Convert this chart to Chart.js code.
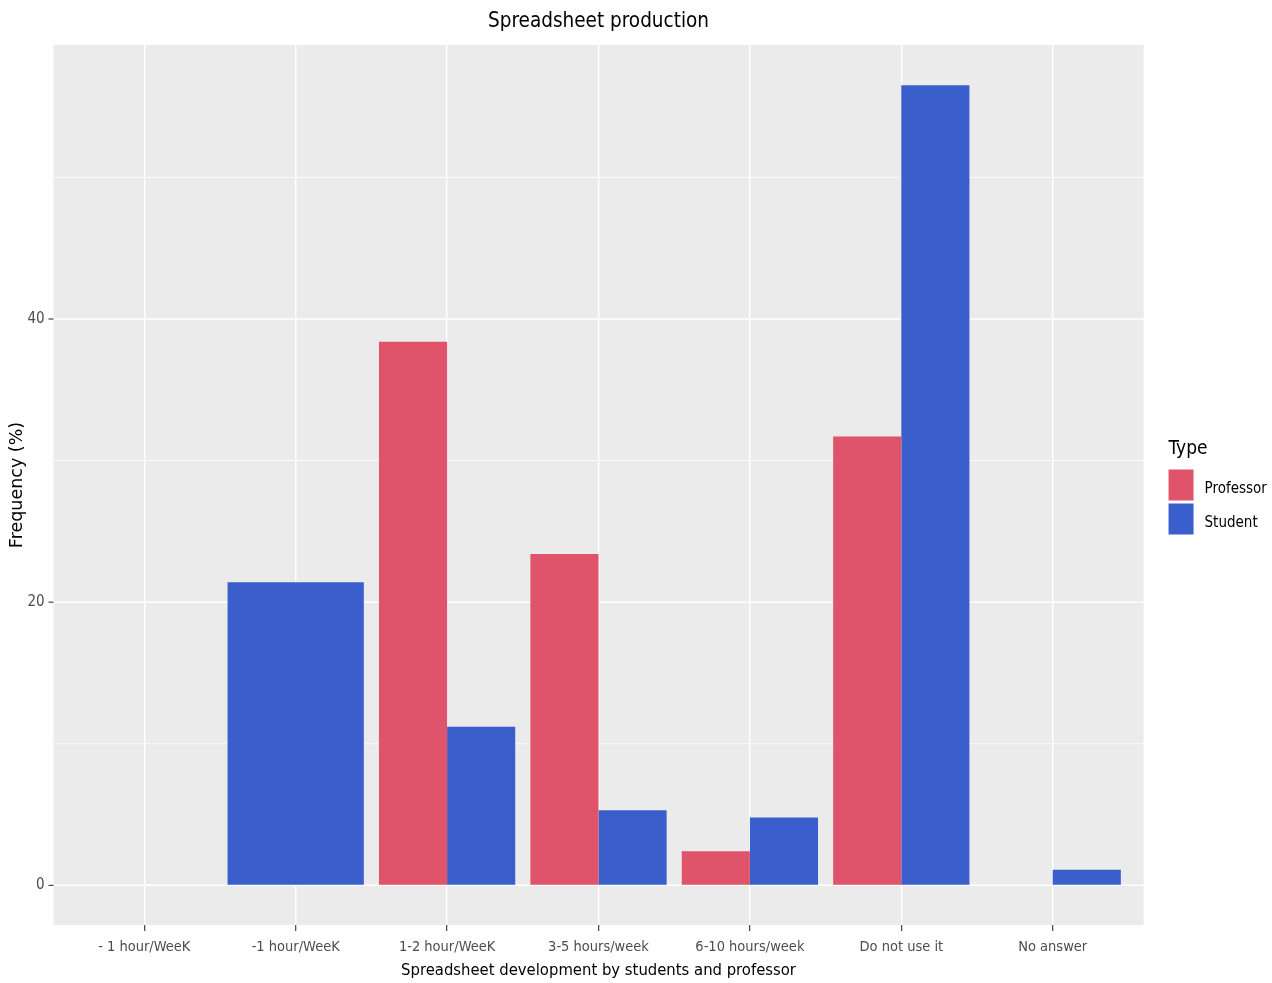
<!DOCTYPE html>
<html>
<head>
<meta charset="utf-8">
<script src="https://cdn.jsdelivr.net/npm/chart.js@4.4.1/dist/chart.umd.min.js"></script>
<style>
  html, body { margin: 0; background: #fff; }
  #wrap { width: 1272px; height: 983px; }
</style>
</head>
<body>
<div id="wrap"><canvas id="myChart"></canvas></div>
<script>
const categories = ['- 1 hour/WeeK', '-1 hour/WeeK', '1-2 hour/WeeK', '3-5 hours/week', '6-10 hours/week', 'Do not use it', 'No answer'];
const professor = [null, null, 38.4, 23.4, 2.4, 31.7, 0];
const student = [null, 21.4, 11.2, 5.3, 4.8, 56.5, 1.1];
const yTicks = [0, 20, 40];
const yMinor = [10, 30, 50];
const chartTitle = 'Spreadsheet production';

const NARROW = "'Liberation Sans Narrow', 'Arial Narrow', 'DejaVu Sans Condensed', sans-serif";

// ggplot-like grey panel, a bit wider than the chart area, plus title and legend
const panel = {
    id: 'panel',
    beforeDraw(chart) {
        const {ctx, chartArea: a, scales: {x, y}} = chart;
        const step = x.getPixelForValue(1) - x.getPixelForValue(0);
        const left = a.left - 0.1 * step, right = a.right + 0.1 * step;
        ctx.save();
        ctx.fillStyle = '#EBEBEB';
        ctx.fillRect(left, a.top, right - left, a.bottom - a.top);
        ctx.strokeStyle = '#fff';
        const hline = (v, w) => {
            const py = y.getPixelForValue(v);
            ctx.lineWidth = w;
            ctx.beginPath(); ctx.moveTo(left, py); ctx.lineTo(right, py); ctx.stroke();
        };
        yMinor.forEach(v => hline(v, 0.8));
        yTicks.forEach(v => hline(v, 1.5));
        ctx.strokeStyle = '#333';
        ctx.lineWidth = 1.1;
        yTicks.forEach(v => {
            const py = y.getPixelForValue(v);
            ctx.beginPath(); ctx.moveTo(left - 5, py); ctx.lineTo(left, py); ctx.stroke();
        });
        // title centred on the panel
        ctx.fillStyle = '#000';
        ctx.font = "20.5px " + NARROW;
        ctx.textAlign = 'center';
        ctx.textBaseline = 'middle';
        ctx.fillText(chartTitle, (left + right) / 2, 22);
        ctx.restore();
    },
    afterDraw(chart) {
        const {ctx, chartArea: a, scales: {x}} = chart;
        const step = x.getPixelForValue(1) - x.getPixelForValue(0);
        const lx = a.right + 0.1 * step + 25;
        const cy = (a.top + a.bottom) / 2;
        ctx.save();
        ctx.fillStyle = '#000';
        ctx.font = "19px " + NARROW;
        ctx.textBaseline = 'middle';
        ctx.fillText('Type', lx, cy - 36);
        ctx.font = "15px " + NARROW;
        chart.data.datasets.forEach((ds, i) => {
            const top = cy - 15.5 + i * 34;
            ctx.fillStyle = ds.backgroundColor;
            ctx.fillRect(lx, top, 25, 31);
            ctx.fillStyle = '#000';
            ctx.fillText(ds.label, lx + 36, top + 19.5);
        });
        ctx.restore();
    }
};

new Chart(document.getElementById('myChart'), {
    type: 'bar',
    data: {
        labels: categories,
        datasets: [
            {label: 'Professor', data: professor, backgroundColor: '#DF536B'},
            {label: 'Student', data: student, backgroundColor: '#3A5FCD'}
        ]
    },
    options: {
        responsive: true,
        maintainAspectRatio: false,
        animation: false,
        skipNull: true,
        categoryPercentage: 0.9,
        barPercentage: 1,
        borderWidth: 0,
        layout: {padding: {left: 0, right: 143.6, top: 45, bottom: 0}},
        plugins: {
            legend: {display: false},
            tooltip: {enabled: false},
            title: {display: false}
        },
        scales: {
            x: {
                offset: true,
                grid: {offset: false, color: '#fff', lineWidth: 1.4, drawTicks: true, tickLength: 6, tickColor: '#333', tickWidth: 1.1},
                border: {display: false},
                ticks: {color: '#4D4D4D', font: {family: NARROW, size: 14.5}, padding: 8, maxRotation: 0, autoSkip: false},
                title: {display: true, text: 'Spreadsheet development by students and professor', color: '#000',
                        font: {family: NARROW, size: 16.5}, padding: {top: 0, bottom: 2}},
                afterFit(s) { s.height = 58; }
            },
            y: {
                min: -2.8,
                max: 59.35,
                afterBuildTicks(s) { s.ticks = yTicks.map(v => ({value: v})); },
                grid: {drawOnChartArea: false, drawTicks: true, tickLength: 19, tickColor: 'rgba(0,0,0,0)'},
                border: {display: false},
                ticks: {color: '#4D4D4D', font: {family: NARROW, size: 15}, padding: 5},
                title: {display: true, text: 'Frequency (%)', color: '#000',
                        font: {family: "'DejaVu Sans', sans-serif", size: 17.5}, padding: {top: 7, bottom: 0}},
                afterFit(s) { s.width = 68.6; }
            }
        }
    },
    plugins: [panel]
});
</script>
</body>
</html>
